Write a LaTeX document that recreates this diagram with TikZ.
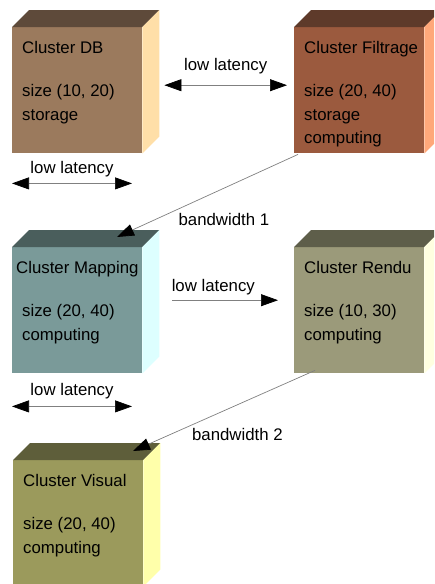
\documentclass[tikz,border=0pt]{standalone}
\usepackage{fontspec}
\setmainfont{Liberation Sans}
\usepackage{tikz}
\usetikzlibrary{%
	arrows.meta,% wg. Triangle
	positioning,% wg. " of "
	calc
}
\definecolor{dbfront}{HTML}{9B7A5D}
\definecolor{dbtop}{HTML}{5E4A3A}
\definecolor{dbside}{HTML}{FFDFA8}
\definecolor{filtfront}{HTML}{9B5A3E}
\definecolor{filttop}{HTML}{5E3A2A}
\definecolor{filtside}{HTML}{FFA87A}
\definecolor{mapfront}{HTML}{7A9A99}
\definecolor{maptop}{HTML}{4A5E5C}
\definecolor{mapside}{HTML}{DDFFFF}
\definecolor{rendfront}{HTML}{9B9A7A}
\definecolor{rendtop}{HTML}{5E5E4A}
\definecolor{rendside}{HTML}{FFFFE0}
\definecolor{visfront}{HTML}{9B9A5C}
\definecolor{vistop}{HTML}{5E5E3A}
\definecolor{visside}{HTML}{FFFFAA}
\tikzstyle{front} = [rectangle, inner sep=0pt, minimum width=130pt, minimum height=126pt, anchor=north west]
\tikzstyle{caption} = [inner sep=0pt, anchor=north west, align=left, font=\fontsize{16.8}{23.5}\selectfont]
\tikzstyle{link} = [draw=black!50, line width=0.7pt]
\tikzstyle{onearrow} = [link, -{Triangle[length=17pt, width=12pt, color=black]}]
\tikzstyle{twoarrow} = [link, {Triangle[length=17pt, width=12pt, color=black]}-{Triangle[length=17pt, width=12pt, color=black]}]
\tikzstyle{weight} = [font=\fontsize{16.8}{20}\selectfont, inner sep=0pt]

\begin{document}
\begin{tikzpicture}[x=1pt,y=-1pt]
	\path[use as bounding box, clip] (0,0) rectangle (434,584);
	
	% First we draw the front faces
	\foreach \pos/\name/\col in {{(12,27)/db/dbfront}, {(294,27)/filt/filtfront},
		{(12,247)/map/mapfront}, {(294,247)/rend/rendfront}, {(13,460)/vis/visfront}}
	\node[front, fill=\col] (\name) at \pos {};
	
	% Then the top and side faces
	\foreach \name/\top/\side in {db/dbtop/dbside, filt/filttop/filtside,
		map/maptop/mapside, rend/rendtop/rendside, vis/vistop/visside}
	{
		\fill[\top] (\name.north west) -- ++(17,-17) -- ($(\name.north east)+(17,-17)$) -- (\name.north east) -- cycle;
		\fill[\side] (\name.north east) -- ++(17,-17) -- ($(\name.south east)+(17,-17)$) -- (\name.south east) -- cycle;
	}
	
	% Texts on the front faces
	\node[caption] (db-txt) at ($(db.north west)+(10,14.5)$) {Cluster DB\\[19.5pt]size (10, 20)\\storage};
	\node[caption] (filt-txt) at ($(filt.north west)+(10,14.5)$) {Cluster Filtrage\\[19.5pt]size (20, 40)\\storage\\computing};
	\node[caption] (map-txt) at ($(map.north west)+(10,14.5)$) {\hspace*{-6pt}Cluster Mapping\\[19.5pt]size (20, 40)\\computing};
	\node[caption] (rend-txt) at ($(rend.north west)+(10,14.5)$) {Cluster Rendu\\[19.5pt]size (10, 30)\\computing};
	\node[caption] (vis-txt) at ($(vis.north west)+(10,14.5)$) {Cluster Visual\\[19.5pt]size (20, 40)\\computing};
	
	% Free ends of the low latency arrows
	\coordinate[below=30pt of db.south west] (dbl);
	\coordinate[right=120pt of dbl] (dbr);
	\coordinate[below=33pt of map.south west] (mapl);
	\coordinate[right=120pt of mapl] (mapr);
	
	% Connect clusters with edges and draw weights
	\path[twoarrow] ([xshift=22pt,yshift=5pt]db.east) -- node[weight, midway, anchor=base, yshift=15pt]{low latency} ([xshift=-7pt,yshift=5pt]filt.west);
	\path[twoarrow] (dbl) -- node[weight, midway, anchor=base, yshift=10pt]{low latency} (dbr);
	\path[onearrow] ([xshift=4pt,yshift=-1pt]filt.south west) -- node[weight, pos=0.855, anchor=base west, xshift=35pt]{bandwidth 1} ([xshift=105pt,yshift=10pt]map.north west);
	\path[onearrow] ([xshift=30pt,yshift=10pt]map.east) -- node[weight, pos=0, anchor=base west, xshift=-1pt, yshift=9pt]{low latency} ([xshift=-16pt,yshift=10pt]rend.west);
	\path[twoarrow] (mapl) -- node[weight, midway, anchor=base, yshift=11pt]{low latency} (mapr);
	\path[onearrow] ([xshift=21pt,yshift=3pt]rend.south west) -- node[weight, pos=0.864, anchor=base west, xshift=34pt]{bandwidth 2} ([xshift=120pt,yshift=9pt]vis.north west);
	
\end{tikzpicture}
\end{document}
